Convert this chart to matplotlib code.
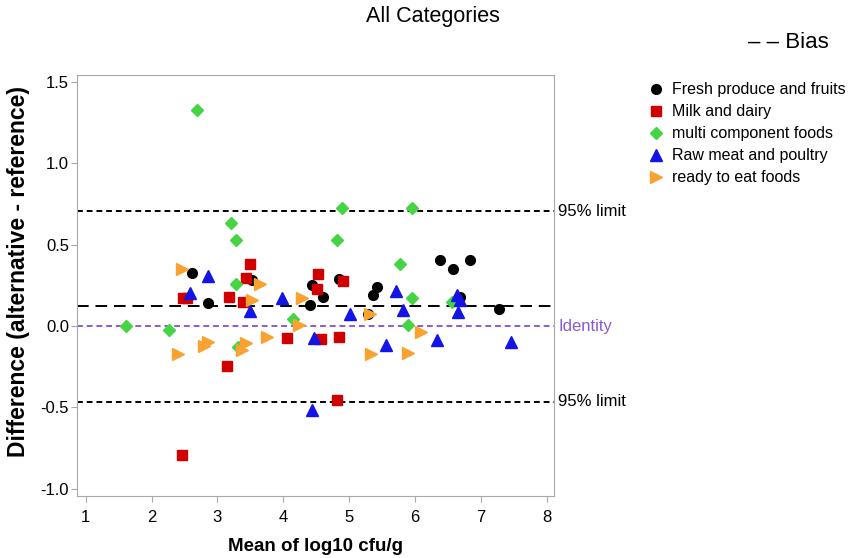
import numpy as np
import matplotlib.pyplot as plt

plt.rcParams['font.family'] = ['Liberation Sans', 'DejaVu Sans']

# ── Data (mean of log10 cfu/g, difference) ─────────────────────────
fresh_x = [2.62, 2.85, 3.52, 4.43, 4.60, 4.41, 4.84, 5.42, 5.37, 5.29, 6.38, 6.57, 6.84, 6.68, 7.28]
fresh_y = [0.327, 0.143, 0.28, 0.25, 0.18, 0.129, 0.286, 0.241, 0.19, 0.073, 0.404, 0.353, 0.404, 0.18, 0.102]

milk_x = [2.47, 2.54, 3.18, 3.39, 3.14, 3.50, 3.44, 4.53, 4.51, 4.91, 4.05, 4.58, 4.85, 4.81, 2.46]
milk_y = [0.17, 0.17, 0.18, 0.15, -0.245, 0.384, 0.298, 0.317, 0.23, 0.278, -0.075, -0.08, -0.065, -0.457, -0.79]

multi_x = [1.61, 2.27, 2.69, 3.21, 3.28, 3.28, 3.32, 4.15, 4.81, 4.89, 5.78, 5.95, 5.95, 5.90, 6.56]
multi_y = [0.0, -0.025, 1.327, 0.635, 0.527, 0.257, -0.127, 0.043, 0.527, 0.725, 0.384, 0.725, 0.17, 0.006, 0.149]

raw_x = [2.85, 2.58, 3.50, 3.98, 5.01, 4.46, 5.56, 5.71, 5.82, 6.33, 6.64, 6.68, 6.65, 7.46, 4.43]
raw_y = [0.306, 0.2, 0.094, 0.17, 0.073, -0.075, -0.116, 0.216, 0.098, -0.086, 0.19, 0.16, 0.088, -0.10, -0.514]

rte_x = [2.46, 2.40, 2.79, 2.86, 3.37, 3.44, 3.65, 3.52, 4.28, 4.24, 3.76, 5.32, 5.33, 6.09, 5.90]
rte_y = [0.353, -0.17, -0.12, -0.10, -0.147, -0.106, 0.26, 0.16, 0.17, 0.006, -0.065, 0.073, -0.17, -0.035, -0.163]

bias = 0.12
upper = 0.705
lower = -0.465

# ── Plot ───────────────────────────────────────────────────────────
fig = plt.figure(figsize=(8.52, 5.58), dpi=100)
ax = fig.add_axes([0.0907, 0.1111, 0.5599, 0.7545])

ax.axhline(upper, color='black', ls=(0, (3, 2)), lw=1.4, zorder=1)
ax.axhline(lower, color='black', ls=(0, (3, 2)), lw=1.4, zorder=1)
ax.axhline(bias, color='black', ls=(0, (6, 3.5)), lw=1.4, zorder=1)
ax.axhline(0.0, color='#8a5ad6', ls=(0, (3, 2)), lw=1.4, zorder=1)

ax.plot(fresh_x, fresh_y, 'o', color='black', ms=7, ls='none', label='Fresh produce and fruits', zorder=3)
ax.plot(milk_x, milk_y, 's', color='#d00000', ms=7.2, ls='none', label='Milk and dairy', zorder=3)
ax.plot(multi_x, multi_y, 'D', color='#44d444', ms=6.5, ls='none', label='multi component foods', zorder=3)
ax.plot(raw_x, raw_y, '^', color='#1414e6', ms=8.7, ls='none', label='Raw meat and poultry', zorder=3)
ax.plot(rte_x, rte_y, '>', color='#f8a331', ms=8.7, ls='none', label='ready to eat foods', zorder=3)

ax.set_xlim(0.872, 8.116)
ax.set_ylim(-1.045, 1.543)
ax.set_xticks(range(1, 9))
ax.set_yticks([-1.0, -0.5, 0.0, 0.5, 1.0, 1.5])
ax.set_yticklabels(['-1.0', '-0.5', '0.0', '0.5', '1.0', '1.5'])

for s in ax.spines.values():
    s.set_color('#a8a8a8')
ax.tick_params(direction='out', color='#a8a8a8', length=4, labelsize=12, labelcolor='black')
ax.tick_params(axis='x', pad=6)
ax.tick_params(axis='y', pad=2)

ax.set_xlabel('Mean of log10 cfu/g', fontsize=13.5, fontweight='bold')
ax.xaxis.set_label_coords(0.5, -0.121)
ax.xaxis.label.set_va('center')
ax.set_ylabel('Difference (alternative - reference)', fontsize=16.5, fontweight='bold')
ax.yaxis.set_label_coords(-0.124, 0.534)
ax.yaxis.label.set_va('center')

trans = ax.get_yaxis_transform()
ax.text(1.008, upper, '95% limit', transform=trans, va='center', ha='left', fontsize=12)
ax.text(1.008, lower, '95% limit', transform=trans, va='center', ha='left', fontsize=12)
ax.text(1.008, 0.0, 'Identity', transform=trans, va='center', ha='left', fontsize=12, color='#8a5ad6')

fig.text(0.5076, 0.971, 'All Categories', ha='center', va='center', fontsize=15.5)
fig.text(0.925, 0.923, '– – Bias', ha='center', va='center', fontsize=16)

fig.legend(loc='upper left', bbox_to_anchor=(0.751, 0.864), frameon=False, fontsize=11.5,
           handletextpad=0.4, labelspacing=0.44, handlelength=1.2, borderaxespad=0)

plt.savefig('out.png', dpi=100)
